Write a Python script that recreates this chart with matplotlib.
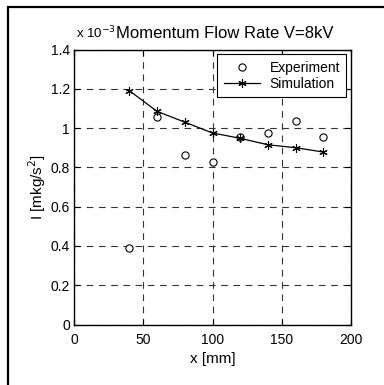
import matplotlib
matplotlib.use("Agg")
import matplotlib.pyplot as plt
from matplotlib.patches import Rectangle

plt.rcParams['font.family'] = ['Liberation Sans', 'DejaVu Sans']

x_mm = [40, 60, 80, 100, 120, 140, 160, 180]
experiment = [0.39, 1.055, 0.865, 0.827, 0.955, 0.975, 1.035, 0.955]
simulation = [1.19, 1.085, 1.03, 0.975, 0.948, 0.915, 0.900, 0.878]
xticks = [0, 50, 100, 150, 200]
yticks = [0, 0.2, 0.4, 0.6, 0.8, 1.0, 1.2, 1.4]
yticklabels = ['0', '0.2', '0.4', '0.6', '0.8', '1', '1.2', '1.4']

W, H = 384, 385
fig = plt.figure(figsize=(W / 100, H / 100), dpi=100)

# outer frame
fig.add_artist(Rectangle((8 / W, -0.05), 1.2, 1 - 7 / H + 0.05, transform=fig.transFigure,
                         fill=False, edgecolor='black', linewidth=1.6))

ax = fig.add_axes([74 / W, 1 - 324.5 / H, (351 - 74) / W, (324.5 - 49.5) / H])
ax.plot(x_mm, experiment, linestyle='none', marker='o', markersize=5.2,
        markerfacecolor='white', markeredgecolor='black', markeredgewidth=0.8,
        label='Experiment')
ax.plot(x_mm, simulation, color='black', linewidth=0.9, marker=(6, 2, 0), markersize=6,
        markeredgewidth=0.8, label='Simulation')

ax.set_xlim(0, 200)
ax.set_ylim(0, 1.4)
ax.set_xticks(xticks)
ax.set_yticks(yticks)
ax.set_yticklabels(yticklabels)
ax.tick_params(direction='in', top=True, right=True, labelsize=10, length=4, width=0.8)
ax.tick_params(axis='x', pad=6)
ax.tick_params(axis='y', pad=3)
ax.grid(True, color='#333333', linestyle=(0, (6, 5)), linewidth=0.8)
for s in ax.spines.values():
    s.set_linewidth(1.0)

ax.set_xlabel('x [mm]', fontsize=11, labelpad=4)
ax.set_ylabel('I [mkg/s$^2$]', fontsize=11, labelpad=2)

fig.text(76 / W, 1 - 38 / H, r'x 10$^{-3}$', fontsize=9.5, ha='left', va='baseline')
fig.text(225 / W, 1 - 38 / H, 'Momentum Flow Rate V=8kV', fontsize=12, ha='center', va='baseline')

leg = ax.legend(loc='upper right', fontsize=10, frameon=True, fancybox=False,
                edgecolor='black', framealpha=1, borderpad=0.45, handlelength=2.6,
                handletextpad=0.7, labelspacing=0.15, borderaxespad=0.35)
leg.get_frame().set_linewidth(0.8)

fig.savefig('out.png', dpi=100)
